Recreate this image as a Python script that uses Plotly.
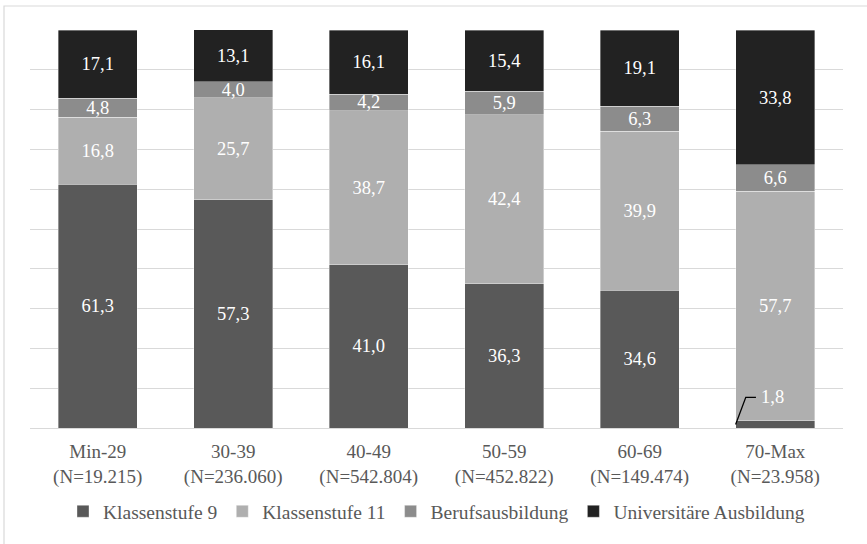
import plotly.graph_objects as go

# Age groups with sample sizes
categories = ["Min-29", "30-39", "40-49", "50-59", "60-69", "70-Max"]
sample_sizes = ["19.215", "236.060", "542.804", "452.822", "149.474", "23.958"]

# Share (in %) of each educational level per age group
klassenstufe_9 = [61.3, 57.3, 41.0, 36.3, 34.6, 1.8]
klassenstufe_11 = [16.8, 25.7, 38.7, 42.4, 39.9, 57.7]
berufsausbildung = [4.8, 4.0, 4.2, 5.9, 6.3, 6.6]
universitaer = [17.1, 13.1, 16.1, 15.4, 19.1, 33.8]

series = [
    ("Klassenstufe 9", klassenstufe_9, "#595959"),
    ("Klassenstufe 11", klassenstufe_11, "#afafaf"),
    ("Berufsausbildung", berufsausbildung, "#8c8c8c"),
    ("Universitäre Ausbildung", universitaer, "#222222"),
]

FONT = "'Liberation Serif', 'Times New Roman', 'DejaVu Serif', serif"
BAR_WIDTH = 0.585
SMALL = 3.0  # segments below this get an external label with a leader line

x_labels = [f"{c}<br>(N={n})" for c, n in zip(categories, sample_sizes)]


def fmt(v):
    return f"{v:.1f}".replace(".", ",")


fig = go.Figure()
for name, vals, color in series:
    fig.add_trace(go.Bar(
        name=name,
        x=x_labels,
        y=vals,
        width=BAR_WIDTH,
        marker=dict(color=color, line=dict(color="rgba(255,255,255,0.6)", width=0.6)),
        text=[fmt(v) if v >= SMALL else "" for v in vals],
        textposition="inside",
        insidetextanchor="middle",
        textangle=0,
        constraintext="none",
        textfont=dict(color="white", size=18.5, family=FONT),
        hoverinfo="skip",
    ))

# External labels with an elbow leader line for very thin segments
for i, v in enumerate(klassenstufe_9):
    if v < SMALL:
        x0 = i - BAR_WIDTH / 2
        y0 = v / 2
        elbow_x = x0 + 0.075
        elbow_y = y0 + 6.8
        end_x = elbow_x + 0.075
        fig.add_shape(
            type="path",
            xref="x", yref="y",
            path=f"M {x0},{y0} L {elbow_x},{elbow_y} L {end_x},{elbow_y}",
            line=dict(color="black", width=1.3),
        )
        fig.add_annotation(
            x=end_x + 0.02, y=elbow_y, xref="x", yref="y",
            text=fmt(v), showarrow=False, xanchor="left",
            font=dict(color="white", size=18.5, family=FONT),
        )

# Light frame around the whole chart
fig.add_shape(
    type="rect", xref="paper", yref="paper",
    x0=-26 / 813, x1=1.1, y0=-0.3, y1=1 + 24 / 398,
    line=dict(color="#d9d9d9", width=1.2), fillcolor="rgba(0,0,0,0)",
    layer="below",
)

fig.update_layout(
    barmode="stack",
    width=867, height=544,
    margin=dict(l=30, r=24, t=30, b=116),
    paper_bgcolor="white",
    plot_bgcolor="white",
    font=dict(family=FONT, color="#595959", size=19),
    uniformtext=dict(minsize=18, mode="show"),
    showlegend=True,
    legend=dict(
        orientation="h",
        x=0.5, xanchor="center",
        y=-0.21, yanchor="middle",
        bgcolor="rgba(0,0,0,0)",
        font=dict(size=19.5, color="#595959", family=FONT),
        itemwidth=30,
        traceorder="normal",
    ),
    xaxis=dict(
        type="category",
        showgrid=False,
        showline=True, linecolor="#d9d9d9", linewidth=1.2,
        ticks="",
        ticklabelstandoff=6,
        tickfont=dict(size=19, color="#595959", family=FONT),
        range=[-0.5, len(categories) - 0.5],
    ),
    yaxis=dict(
        range=[0, 100],
        dtick=10,
        showgrid=True, gridcolor="#d9d9d9", gridwidth=1.2,
        showticklabels=False,
        zeroline=False,
        showline=False,
        ticks="",
    ),
)

fig.write_html("out.html")
